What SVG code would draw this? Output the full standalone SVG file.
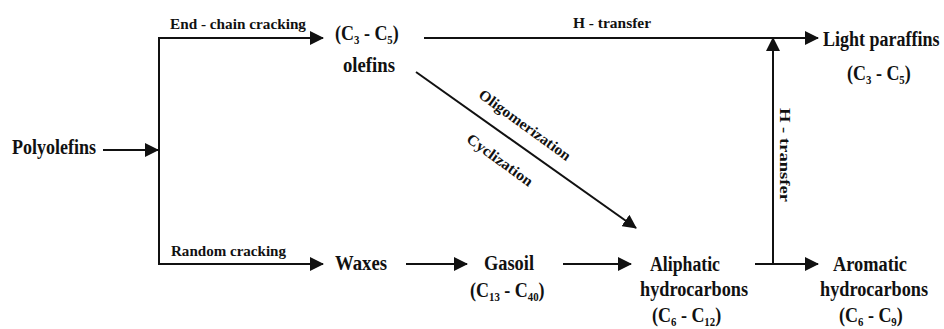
<svg xmlns="http://www.w3.org/2000/svg" width="944" height="329" viewBox="0 0 944 329">
<style>
text{font-family:"Liberation Serif","DejaVu Serif","Times New Roman",serif;font-weight:bold;fill:#111}
.n{font-size:20px}
.s{font-size:15px}
.sub{font-size:12px}
.ln{stroke:#111;stroke-width:2;fill:none}
</style>
<defs>
<marker id="ah" markerUnits="userSpaceOnUse" markerWidth="14" markerHeight="14" refX="13" refY="7" orient="auto">
<path d="M0,0 L14,7 L0,14 z" fill="#111"/>
</marker>
</defs>
<rect width="944" height="329" fill="#fff"/>
<g id="connectors">
<line class="ln" x1="103" y1="150" x2="158" y2="150" marker-end="url(#ah)"/>
<polyline class="ln" points="323,38 159,38 159,264 323,264"/>
<line class="ln" x1="300" y1="38" x2="323" y2="38" marker-end="url(#ah)"/>
<line class="ln" x1="300" y1="264" x2="323" y2="264" marker-end="url(#ah)"/>
<line class="ln" x1="424" y1="38" x2="818" y2="38" marker-end="url(#ah)"/>
<line class="ln" x1="416" y1="72" x2="636" y2="228" marker-end="url(#ah)"/>
<line class="ln" x1="406" y1="264" x2="467" y2="264" marker-end="url(#ah)"/>
<line class="ln" x1="563" y1="264" x2="631" y2="264" marker-end="url(#ah)"/>
<line class="ln" x1="755" y1="264" x2="818" y2="264" marker-end="url(#ah)"/>
<line class="ln" x1="773" y1="264" x2="773" y2="38" marker-end="url(#ah)"/>
<text class="s" x="170" y="29" textLength="136" lengthAdjust="spacingAndGlyphs">End - chain cracking</text>
<text class="s" x="171" y="256" textLength="115" lengthAdjust="spacingAndGlyphs">Random cracking</text>
<text class="s" x="573" y="28" textLength="78" lengthAdjust="spacingAndGlyphs">H - transfer</text>
<text class="s" transform="translate(779.5,155) rotate(90)" text-anchor="middle" textLength="94" lengthAdjust="spacingAndGlyphs">H - transfer</text>
<text class="s" transform="translate(522,129) rotate(36)" text-anchor="middle" textLength="110" lengthAdjust="spacingAndGlyphs">Oligomerization</text>
<text class="s" transform="translate(497,164) rotate(36)" text-anchor="middle" textLength="78" lengthAdjust="spacingAndGlyphs">Cyclization</text>
</g>
<g id="polyolefins">
<text class="n" x="12" y="154" textLength="84" lengthAdjust="spacingAndGlyphs">Polyolefins</text>
</g>
<g id="olefins">
<text class="n" transform="translate(335,40) scale(0.9,1)">(C<tspan class="sub" dy="4">3</tspan><tspan dy="-4"> - C</tspan><tspan class="sub" dy="4">5</tspan><tspan dy="-4">)</tspan></text>
<text class="n" x="343" y="72" textLength="52" lengthAdjust="spacingAndGlyphs">olefins</text>
</g>
<g id="light-paraffins">
<text class="n" transform="translate(823,46) scale(0.9,1)">Light paraffins</text>
<text class="n" transform="translate(847,80) scale(0.9,1)">(C<tspan class="sub" dy="4">3</tspan><tspan dy="-4"> - C</tspan><tspan class="sub" dy="4">5</tspan><tspan dy="-4">)</tspan></text>
</g>
<g id="waxes">
<text class="n" x="335" y="270" textLength="52" lengthAdjust="spacingAndGlyphs">Waxes</text>
</g>
<g id="gasoil">
<text class="n" x="484" y="270" textLength="50" lengthAdjust="spacingAndGlyphs">Gasoil</text>
<text class="n" transform="translate(470,297) scale(0.9,1)">(C<tspan class="sub" dy="4">13</tspan><tspan dy="-4"> - C</tspan><tspan class="sub" dy="4">40</tspan><tspan dy="-4">)</tspan></text>
</g>
<g id="aliphatic">
<text class="n" x="650" y="271" textLength="70" lengthAdjust="spacingAndGlyphs">Aliphatic</text>
<text class="n" x="640" y="296" textLength="108" lengthAdjust="spacingAndGlyphs">hydrocarbons</text>
<text class="n" transform="translate(652,322) scale(0.9,1)">(C<tspan class="sub" dy="4">6</tspan><tspan dy="-4"> - C</tspan><tspan class="sub" dy="4">12</tspan><tspan dy="-4">)</tspan></text>
</g>
<g id="aromatic">
<text class="n" x="833" y="271" textLength="74" lengthAdjust="spacingAndGlyphs">Aromatic</text>
<text class="n" x="820" y="296" textLength="108" lengthAdjust="spacingAndGlyphs">hydrocarbons</text>
<text class="n" transform="translate(839,322) scale(0.9,1)">(C<tspan class="sub" dy="4">6</tspan><tspan dy="-4"> - C</tspan><tspan class="sub" dy="4">9</tspan><tspan dy="-4">)</tspan></text>
</g>
</svg>
